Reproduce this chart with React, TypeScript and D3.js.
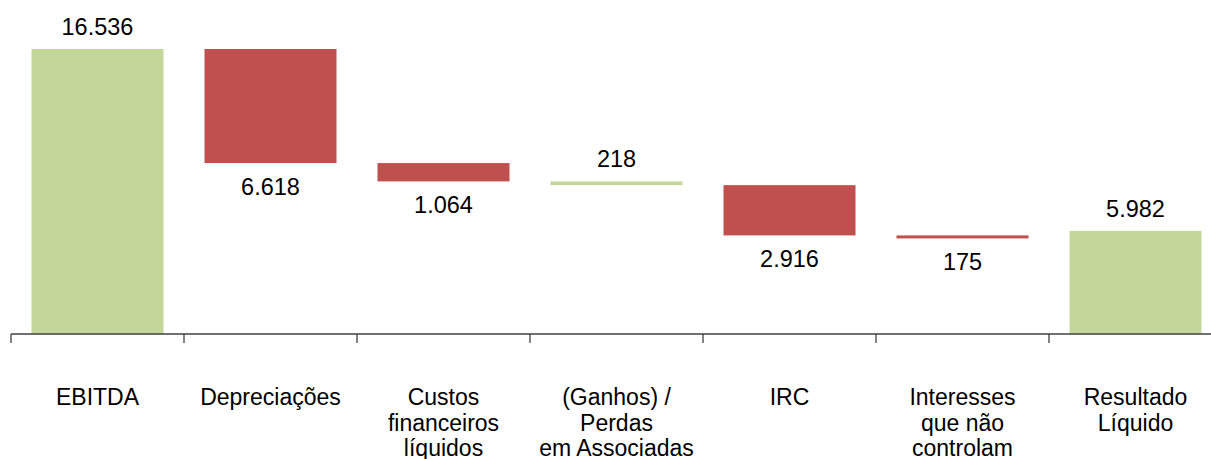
import React from "react";
import * as d3 from "d3";

const categories: string[][] = [
  ["EBITDA"],
  ["Depreciações"],
  ["Custos", "financeiros", "líquidos"],
  ["(Ganhos) /", "Perdas", "em Associadas"],
  ["IRC"],
  ["Interesses", "que não", "controlam"],
  ["Resultado", "Líquido"],
];
const categoryKeys = ["EBITDA", "Depreciacoes", "Custos", "Ganhos", "IRC", "Interesses", "Resultado"];
// signed change (total bars are drawn from zero)
const values = [16536, -6618, -1064, -218, -2916, -175, 5982];
const isTotal = [true, false, false, false, false, false, true];
const isGreen = [true, false, false, true, false, false, true];
const labelAbove = [true, false, false, true, false, false, true];

const W = 1211;
const H = 459;
const GREEN = "#C4D79B";
const RED = "#C0504D";
const FONT = "'Liberation Sans', Arial, sans-serif";

const fmt = d3.formatLocale({ decimal: ",", thousands: ".", grouping: [3], currency: ["", ""] }).format(",d");

export default function App() {
  const x = d3
    .scaleBand<string>()
    .domain(categoryKeys)
    .range([11, 1222])
    .paddingInner(0.237)
    .paddingOuter(0.1185);
  const y = d3.scaleLinear().domain([0, 16536]).range([334, 49]);
  const step = x.step();
  const x0 = 11;

  let running = 0;
  const bars = values.map((v, i) => {
    let lo: number, hi: number;
    if (isTotal[i]) {
      lo = 0;
      hi = v;
      running = v;
    } else {
      const next = running + v;
      lo = Math.min(running, next);
      hi = Math.max(running, next);
      running = next;
    }
    return { key: categoryKeys[i], lo, hi, v, i };
  });

  return (
    <svg width={W} height={H} style={{ position: "absolute", left: 0, top: 0 }} fontFamily={FONT}>
      <rect width={W} height={H} fill="#fff" />
      {bars.map((b) => {
        const bx = x(b.key)!;
        const top = y(b.hi);
        const bottom = y(b.lo);
        const cx = bx + x.bandwidth() / 2;
        return (
          <g key={b.key}>
            <rect
              x={bx}
              y={top}
              width={x.bandwidth()}
              height={Math.max(bottom - top, 1)}
              fill={isGreen[b.i] ? GREEN : RED}
            />
            <text
              x={cx}
              y={labelAbove[b.i] ? top - 14 : bottom + 32}
              textAnchor="middle"
              fontSize={23.5}
              fill="#000"
            >
              {fmt(Math.abs(b.v))}
            </text>
          </g>
        );
      })}
      <line x1={x0} x2={W} y1={334} y2={334} stroke="#404040" strokeWidth={1.3} />
      {categoryKeys.map((k, i) => (
        <line
          key={"t" + k}
          x1={x0 + i * step}
          x2={x0 + i * step}
          y1={334}
          y2={343}
          stroke="#404040"
          strokeWidth={1.3}
        />
      ))}
      {categories.map((lines, i) => {
        const cx = x(categoryKeys[i])! + x.bandwidth() / 2;
        return (
          <text key={"c" + i} textAnchor="middle" fontSize={23} fill="#000">
            {lines.map((l, j) => (
              <tspan key={j} x={cx} y={405 + j * 25.5}>
                {l}
              </tspan>
            ))}
          </text>
        );
      })}
    </svg>
  );
}
